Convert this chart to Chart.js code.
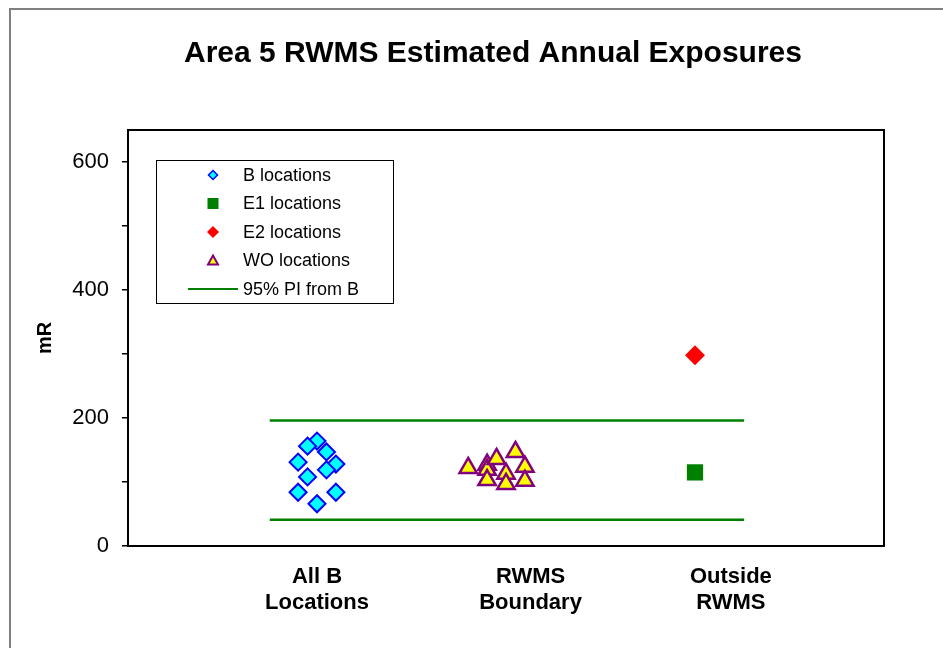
<!DOCTYPE html>
<html>
<head>
<meta charset="utf-8">
<script src="https://cdn.jsdelivr.net/npm/chart.js@4/dist/chart.umd.min.js"></script>
<style>
  html, body { margin: 0; padding: 0; background: #ffffff; }
  canvas { display: block; }
</style>
</head>
<body>
<canvas id="c" width="943" height="648"></canvas>
<script>
// ---------------- data ----------------
const chartTitle = 'Area 5 RWMS Estimated Annual Exposures';
const yAxisTitle = 'mR';
const categoryLabels = [['All B', 'Locations'], ['RWMS', 'Boundary'], ['Outside', 'RWMS']];
const categoryLabelX = [1.0, 2.13, 3.19];
const yTickValues = [0, 100, 200, 300, 400, 500, 600];
const yLabelledTicks = [0, 200, 400, 600];

const bX = [1.0, 0.95, 1.05, 0.90, 1.10, 1.05, 0.95, 0.90, 1.10, 1.0];
const bY = [164, 156, 147, 131, 128, 119, 108, 84, 84, 66];

const woX = [1.80, 1.90, 1.90, 1.90, 1.95, 2.05, 2.0, 2.0, 2.10, 2.10];
const woY = [122, 127, 119, 103, 136, 147, 113, 97, 124, 102];

const e1X = [3.0];
const e1Y = [115];
const e2X = [3.0];
const e2Y = [298];

const piX = [0.75, 3.26];
const piUpper = [196, 196];
const piLower = [41, 41];

const legendNames = ['B locations', 'E1 locations', 'E2 locations', 'WO locations', '95% PI from B'];

// ---------------- helpers ----------------
const pts = (xs, ys) => xs.map((x, i) => ({ x: x, y: ys[i] }));
const FONT = "'Liberation Sans', Arial, sans-serif";

const decorPlugin = {
  id: 'decor',
  beforeDraw(chart) {
    const ctx = chart.ctx;
    ctx.save();
    ctx.fillStyle = '#ffffff';
    ctx.fillRect(0, 0, chart.width, chart.height);
    // outer frame (grey)
    ctx.strokeStyle = '#808080';
    ctx.lineWidth = 2;
    ctx.beginPath();
    ctx.moveTo(10, chart.height + 2);
    ctx.lineTo(10, 9);
    ctx.lineTo(chart.width + 2, 9);
    ctx.stroke();
    // title
    ctx.fillStyle = '#000000';
    ctx.font = 'bold 30px ' + FONT;
    ctx.textAlign = 'center';
    ctx.textBaseline = 'alphabetic';
    ctx.fillText(chartTitle, 493, 62);
    ctx.restore();
  },
  afterDraw(chart) {
    const ctx = chart.ctx;
    const a = chart.chartArea;
    ctx.save();
    // plot frame
    ctx.strokeStyle = '#000000';
    ctx.lineWidth = 2;
    ctx.strokeRect(a.left, a.top, a.right - a.left, a.bottom - a.top);

    // legend box
    const lx = 156, ly = 160, lw = 237, lh = 143;
    ctx.fillStyle = '#ffffff';
    ctx.fillRect(lx, ly, lw, lh);
    ctx.lineWidth = 1;
    ctx.strokeStyle = '#000000';
    ctx.strokeRect(lx + 0.5, ly + 0.5, lw, lh);

    const rows = [175, 203.5, 232, 260.5, 289];
    const mx = 213;
    ctx.font = '18px ' + FONT;
    ctx.textAlign = 'left';
    ctx.textBaseline = 'middle';
    legendNames.forEach((name, i) => {
      const y = rows[i];
      ctx.fillStyle = '#000000';
      ctx.fillText(name, 243, y + 1);
    });
    // B diamond
    ctx.beginPath();
    ctx.moveTo(mx, rows[0] - 4.5); ctx.lineTo(mx + 4.5, rows[0]); ctx.lineTo(mx, rows[0] + 4.5); ctx.lineTo(mx - 4.5, rows[0]); ctx.closePath();
    ctx.fillStyle = '#00FFFF'; ctx.fill();
    ctx.lineWidth = 1.5; ctx.strokeStyle = '#0000FF'; ctx.stroke();
    // E1 square
    ctx.fillStyle = '#008000';
    ctx.fillRect(mx - 5.5, rows[1] - 5.5, 11, 11);
    // E2 diamond
    ctx.beginPath();
    ctx.moveTo(mx, rows[2] - 6); ctx.lineTo(mx + 6, rows[2]); ctx.lineTo(mx, rows[2] + 6); ctx.lineTo(mx - 6, rows[2]); ctx.closePath();
    ctx.fillStyle = '#FF0000'; ctx.fill();
    // WO triangle
    ctx.beginPath();
    ctx.moveTo(mx, rows[3] - 5); ctx.lineTo(mx + 5, rows[3] + 4); ctx.lineTo(mx - 5, rows[3] + 4); ctx.closePath();
    ctx.fillStyle = '#FFFF00'; ctx.fill();
    ctx.lineWidth = 2; ctx.strokeStyle = '#800080'; ctx.stroke();
    // PI line
    ctx.beginPath();
    ctx.moveTo(188, rows[4]); ctx.lineTo(238, rows[4]);
    ctx.lineWidth = 2; ctx.strokeStyle = '#008000'; ctx.stroke();
    ctx.restore();
  }
};

new Chart(document.getElementById('c'), {
  type: 'scatter',
  data: {
    datasets: [
      { label: '95% PI from B', type: 'line', data: pts(piX, piUpper), borderColor: '#008000', borderWidth: 2.5, pointRadius: 0, fill: false, order: 5 },
      { label: '95% PI from B lower', type: 'line', data: pts(piX, piLower), borderColor: '#008000', borderWidth: 2.5, pointRadius: 0, fill: false, order: 5 },
      { label: 'B locations', data: pts(bX, bY), pointStyle: 'rectRot', pointRadius: 8.5, backgroundColor: '#00FFFF', borderColor: '#0000FF', borderWidth: 2, order: 1 },
      { label: 'WO locations', data: pts(woX, woY), pointStyle: 'triangle', pointRadius: 10, backgroundColor: '#FFFF00', borderColor: '#800080', borderWidth: 2.5, order: 2 },
      { label: 'E1 locations', data: pts(e1X, e1Y), pointStyle: 'rect', pointRadius: 11.5, backgroundColor: '#008000', borderColor: '#008000', borderWidth: 0, order: 3 },
      { label: 'E2 locations', data: pts(e2X, e2Y), pointStyle: 'rectRot', pointRadius: 10, backgroundColor: '#FF0000', borderColor: '#FF0000', borderWidth: 0, order: 4 }
    ]
  },
  options: {
    responsive: false,
    animation: false,
    layout: { padding: { left: 0, right: 59, top: 130, bottom: 0 } },
    plugins: { legend: { display: false }, title: { display: false }, tooltip: { enabled: false } },
    scales: {
      x: {
        type: 'linear',
        min: 0,
        max: 4,
        afterBuildTicks: (s) => { s.ticks = categoryLabelX.map(v => ({ value: v })); },
        afterFit: (s) => { s.height = 102; },
        grid: { display: false, drawTicks: false },
        border: { display: false },
        ticks: {
          autoSkip: false,
          maxRotation: 0,
          minRotation: 0,
          padding: 18,
          color: '#000000',
          font: { family: FONT, size: 22, weight: 'bold', lineHeight: 1.18 },
          callback: (v, i) => categoryLabels[i]
        }
      },
      y: {
        type: 'linear',
        min: 0,
        max: 650,
        afterBuildTicks: (s) => { s.ticks = yTickValues.map(v => ({ value: v })); },
        afterFit: (s) => { s.width = 128; },
        grid: { drawOnChartArea: false, drawTicks: true, tickLength: 6, color: '#000000', lineWidth: 1.5 },
        border: { display: true, color: '#000000', width: 2 },
        ticks: {
          padding: 13,
          color: '#000000',
          font: { family: FONT, size: 22 },
          callback: (v) => yLabelledTicks.includes(v) ? String(v) : ''
        },
        title: {
          display: true,
          text: yAxisTitle,
          color: '#000000',
          font: { family: FONT, size: 20, weight: 'bold' },
          padding: { top: 33, bottom: 0 }
        }
      }
    }
  },
  plugins: [decorPlugin]
});
</script>
</body>
</html>
